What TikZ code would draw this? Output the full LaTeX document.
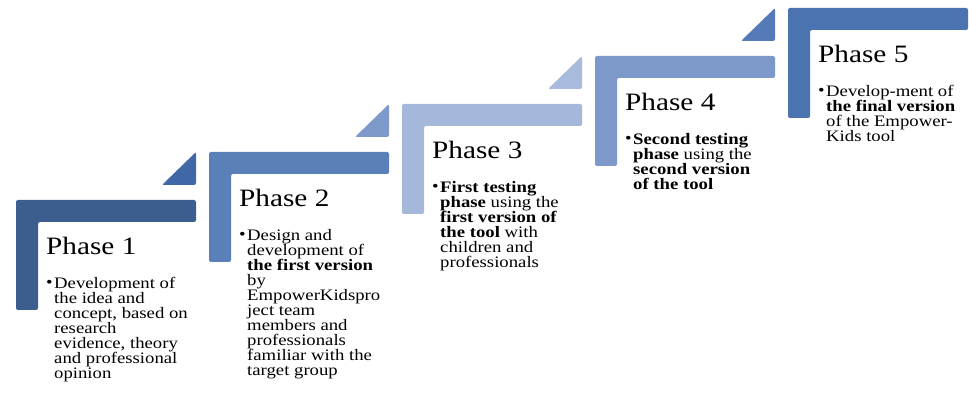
\documentclass[tikz,border=0pt]{standalone}
\usepackage{fontspec}
\setmainfont{Liberation Serif}[FakeStretch=1.17]
\usepackage{tikz}
\usetikzlibrary{positioning}

\definecolor{barA}{HTML}{3B5E8F}
\definecolor{triA}{HTML}{4068A6}
\definecolor{barB}{HTML}{5B80B9}
\definecolor{triB}{HTML}{7E9ACB}
\definecolor{barC}{HTML}{A6B8DA}
\definecolor{triC}{HTML}{A9BBDC}
\definecolor{barD}{HTML}{7C99CA}
\definecolor{triD}{HTML}{5679B8}
\definecolor{barE}{HTML}{4A73B0}

\begin{document}
\begin{tikzpicture}[x=1pt, y=-1pt,
	stepbar/.style={rounded corners=2pt},
	heading/.style={anchor=base west, inner sep=0pt, font=\fontsize{25}{25}\selectfont},
	dot/.style={anchor=base west, inner sep=0pt, font=\fontsize{16}{15}\selectfont},
	body/.style={anchor=north west, inner sep=0pt, align=left, font=\fontsize{16}{15}\selectfont}]
\useasboundingbox (0,0) rectangle (969,411);
% phase 1
\fill[stepbar, barA]	(16,200) -- ++(180,0) -- ++(0,22) -- ++(-158,0) -- ++(0,88) -- ++(-22,0) -- cycle;
\fill[stepbar, triA]	(162,185) -- ++(34,-33) -- ++(0,33) -- cycle;
\node[heading]	(ph1)						at (46,255)		{Phase 1};
\node[dot]		(d1)	[below=33pt of ph1.base west, anchor=base west]	{\textbullet};
\node[body]		(t1)						at (54,277)		{Development of\\the idea and\\concept, based on\\research\\evidence, theory\\and professional\\opinion};
% phase 2
\fill[stepbar, barB]	(209,152) -- ++(180,0) -- ++(0,22) -- ++(-158,0) -- ++(0,88) -- ++(-22,0) -- cycle;
\fill[stepbar, triB]	(355,137) -- ++(34,-33) -- ++(0,33) -- cycle;
\node[heading]	(ph2)						at (239,207)	{Phase 2};
\node[dot]		(d2)	[below=33pt of ph2.base west, anchor=base west]	{\textbullet};
\node[body]		(t2)						at (247,229)	{Design and\\development of\\\textbf{the first version}\\by\\EmpowerKidspro\\ject team\\members and\\professionals\\familiar with the\\target group};
% phase 3
\fill[stepbar, barC]	(402,104) -- ++(180,0) -- ++(0,22) -- ++(-158,0) -- ++(0,88) -- ++(-22,0) -- cycle;
\fill[stepbar, triC]	(548,89) -- ++(34,-33) -- ++(0,33) -- cycle;
\node[heading]	(ph3)						at (432,159)	{Phase 3};
\node[dot]		(d3)	[below=33pt of ph3.base west, anchor=base west]	{\textbullet};
\node[body]		(t3)						at (440,181)	{\textbf{First testing}\\\textbf{phase} using the\\\textbf{first version of}\\\textbf{the tool} with\\children and\\professionals};
% phase 4
\fill[stepbar, barD]	(595,56) -- ++(180,0) -- ++(0,22) -- ++(-158,0) -- ++(0,88) -- ++(-22,0) -- cycle;
\fill[stepbar, triD]	(741,41) -- ++(34,-33) -- ++(0,33) -- cycle;
\node[heading]	(ph4)						at (625,111)	{Phase 4};
\node[dot]		(d4)	[below=33pt of ph4.base west, anchor=base west]	{\textbullet};
\node[body]		(t4)						at (633,133)	{\textbf{Second testing}\\\textbf{phase} using the\\\textbf{second version}\\\textbf{of the tool}};
% phase 5
\fill[stepbar, barE]	(788,8) -- ++(180,0) -- ++(0,22) -- ++(-158,0) -- ++(0,88) -- ++(-22,0) -- cycle;
\node[heading]	(ph5)						at (818,63)		{Phase 5};
\node[dot]		(d5)	[below=33pt of ph5.base west, anchor=base west]	{\textbullet};
\node[body]		(t5)						at (826,85)		{Develop-ment of\\\textbf{the final version}\\of the Empower-\\Kids tool};
\end{tikzpicture}
\end{document}
